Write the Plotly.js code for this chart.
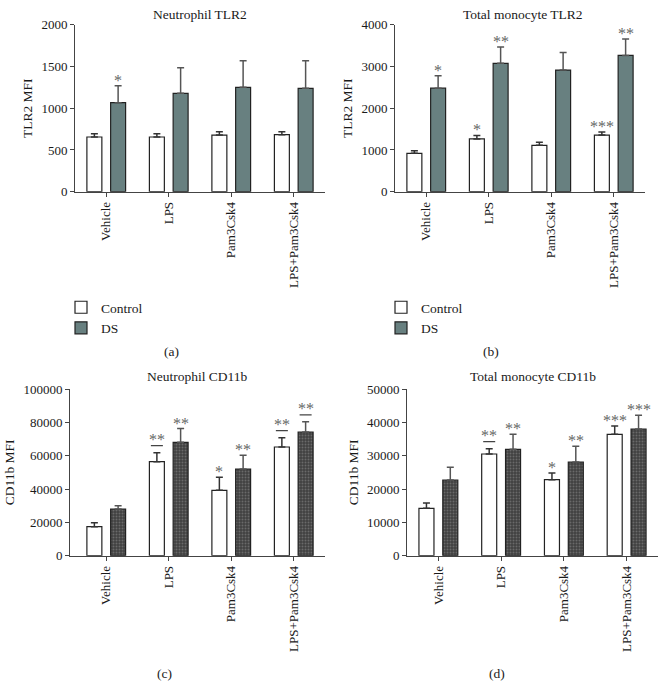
<!DOCTYPE html>
<html>
<head>
<meta charset="utf-8">
<script src="https://cdn.plot.ly/plotly-3.0.1.min.js"></script>
<style>html,body{margin:0;padding:0;background:#fff;}#chart{width:666px;height:700px;}</style>
</head>
<body>
<div id="chart"></div>
<script>
// ---- data ----
const categories = ["Vehicle", "LPS", "Pam3Csk4", "LPS+Pam3Csk4"];
const seriesNames = ["Control", "DS"];

const titleA = "Neutrophil TLR2";
const titleB = "Total monocyte TLR2";
const titleC = "Neutrophil CD11b";
const titleD = "Total monocyte CD11b";
const yTitleTop = "TLR2 MFI";
const yTitleBottom = "CD11b MFI";
const panelLabels = ["(a)", "(b)", "(c)", "(d)"];

// (a) Neutrophil TLR2
const aControl = [655, 655, 678, 683];
const aControlErr = [40, 40, 40, 36];
const aDS = [1066, 1178, 1250, 1238];
const aDSErr = [203, 307, 319, 331];
const aControlStars = ["", "", "", ""];
const aDSStars = ["*", "", "", ""];

// (b) Total monocyte TLR2
const bControl = [918, 1265, 1110, 1357];
const bControlErr = [64, 84, 72, 72];
const bDS = [2480, 3074, 2914, 3265];
const bDSErr = [298, 391, 423, 392];
const bControlStars = ["", "*", "", "***"];
const bDSStars = ["*", "**", "", "**"];

// (c) Neutrophil CD11b
const cControl = [17400, 56400, 39200, 65200];
const cControlErr = [2400, 5400, 7800, 5600];
const cDS = [28000, 68000, 52000, 74200];
const cDSErr = [2000, 8300, 8200, 6100];
const cControlStars = ["", "**", "*", "**"];
const cDSStars = ["", "**", "**", "**"];
const cControlUnderline = [false, true, false, true];
const cDSUnderline = [false, false, false, true];

// (d) Total monocyte CD11b
const dControl = [14200, 30500, 22800, 36400];
const dControlErr = [1600, 1600, 2000, 2500];
const dDS = [22700, 31900, 28100, 38000];
const dDSErr = [3800, 4500, 4700, 4100];
const dControlStars = ["", "**", "*", "***"];
const dDSStars = ["", "**", "**", "***"];
const dControlUnderline = [false, true, false, false];
const dDSUnderline = [false, false, false, false];

// ---- styles ----
const FONT = "Liberation Serif, Times New Roman, serif";
const TXT = "#1a1a1a";
const STAR = "#666";
const DS_TOP = "#688080";
const OFF = 0.19; // half distance between bar centers (category units)

const traces = [];
const annotations = [];
const shapes = [];

function panel(idx, ctrl, ctrlErr, ds, dsErr, ctrlStars, dsStars, ctrlUl, dsUl, patterned, legendId) {
  const xa = idx === 1 ? "x" : "x" + idx;
  const ya = idx === 1 ? "y" : "y" + idx;
  const zeros = ctrl.map(() => 0);
  traces.push({
    type: "bar", name: seriesNames[0], x: categories, y: ctrl,
    xaxis: xa, yaxis: ya,
    marker: {color: "#ffffff", line: {color: "#222", width: 1.2}},
    error_y: {type: "data", symmetric: false, array: ctrlErr, arrayminus: zeros,
              color: "#333", thickness: 1.5, width: 3.5},
    showlegend: !!legendId, legend: legendId || "legend", hoverinfo: "y"
  });
  const dsMarker = patterned
    ? {color: "#444444", line: {color: "#222", width: 1.2},
       pattern: {shape: ".", fillmode: "replace", bgcolor: "#404040", fgcolor: "#6a6a6a", size: 3, solidity: 0.35}}
    : {color: DS_TOP, line: {color: "#222", width: 1.2}};
  traces.push({
    type: "bar", name: seriesNames[1], x: categories, y: ds,
    xaxis: xa, yaxis: ya,
    marker: dsMarker,
    error_y: {type: "data", symmetric: false, array: dsErr, arrayminus: zeros,
              color: "#555", thickness: 1.5, width: 3.5},
    showlegend: !!legendId, legend: legendId || "legend", hoverinfo: "y"
  });
  const groups = [[ctrl, ctrlErr, ctrlStars, ctrlUl, -OFF], [ds, dsErr, dsStars, dsUl, OFF]];
  groups.forEach(([vals, errs, stars, ul, off]) => {
    vals.forEach((v, i) => {
      const top = v + errs[i];
      const hasUl = ul && ul[i];
      if (stars[i]) {
        annotations.push({
          xref: xa, yref: ya, x: i + off, y: top, text: stars[i],
          showarrow: false, xanchor: "center", yanchor: "bottom",
          yshift: hasUl ? 3 : -5,
          font: {family: FONT, size: 16, color: STAR}
        });
      }
      if (hasUl) {
        shapes.push({
          type: "line", xref: xa, yref: ya,
          xsizemode: "pixel", ysizemode: "pixel",
          xanchor: i + off, yanchor: top,
          x0: -6, x1: 6, y0: 7, y1: 7,
          line: {color: "#444", width: 1.2}
        });
      }
    });
  });
}

panel(1, aControl, aControlErr, aDS, aDSErr, aControlStars, aDSStars, null, null, false, "legend");
panel(2, bControl, bControlErr, bDS, bDSErr, bControlStars, bDSStars, null, null, false, "legend2");
panel(3, cControl, cControlErr, cDS, cDSErr, cControlStars, cDSStars, cControlUnderline, cDSUnderline, true, null);
panel(4, dControl, dControlErr, dDS, dDSErr, dControlStars, dDSStars, dControlUnderline, dDSUnderline, true, null);

const W = 666, H = 700;
function px(x) { return x / W; }
function py(y) { return 1 - y / H; }

function xaxis(x0, x1, r0) {
  return {
    domain: [px(x0), px(x1)], type: "category", range: [r0, 3.5],
    showline: true, linecolor: "#444", linewidth: 1,
    ticks: "outside", ticklen: 4, tickcolor: "#444", tickwidth: 1,
    tickangle: -90, showgrid: false, zeroline: false, fixedrange: true,
    tickfont: {family: FONT, size: 13, color: TXT}
  };
}
function yaxis(y0, y1, max, dtick, title, standoff, anchor) {
  return {
    domain: [py(y1), py(y0)], range: [0, max], dtick: dtick, tickformat: "d",
    showline: true, linecolor: "#444", linewidth: 1,
    ticks: "outside", ticklen: 4, tickcolor: "#444", tickwidth: 1,
    showgrid: false, zeroline: false, fixedrange: true, anchor: anchor,
    tickfont: {family: FONT, size: 13, color: TXT},
    title: {text: title, font: {family: FONT, size: 13.5, color: TXT}, standoff: standoff}
  };
}

const topY0 = 24.7, topY1 = 191.7, botY0 = 389, botY1 = 555.7;
const titleFont = {family: FONT, size: 13.5, color: TXT};

const layout = {
  width: W, height: H,
  margin: {l: 0, r: 0, t: 0, b: 0},
  paper_bgcolor: "#fff", plot_bgcolor: "#fff",
  font: {family: FONT, size: 13, color: TXT},
  barmode: "group", bargap: 0.24, bargroupgap: 0.37,
  xaxis: Object.assign(xaxis(75, 325, -0.5), {anchor: "y"}),
  yaxis: yaxis(topY0, topY1, 2000, 500, yTitleTop, 5, "x"),
  xaxis2: Object.assign(xaxis(395, 645, -0.5), {anchor: "y2"}),
  yaxis2: yaxis(topY0, topY1, 4000, 1000, yTitleTop, 5, "x2"),
  xaxis3: Object.assign(xaxis(70, 325, -0.58), {anchor: "y3"}),
  yaxis3: yaxis(botY0, botY1, 100000, 20000, yTitleBottom, 5, "x3"),
  xaxis4: Object.assign(xaxis(407, 658, -0.5), {anchor: "y4"}),
  yaxis4: yaxis(botY0, botY1, 50000, 10000, yTitleBottom, 5, "x4"),
  legend: {x: px(61), y: py(292), xanchor: "left", yanchor: "top",
           font: {family: FONT, size: 13.5, color: TXT}, bgcolor: "rgba(0,0,0,0)",
           tracegroupgap: 0, itemwidth: 30},
  legend2: {x: px(381), y: py(292), xanchor: "left", yanchor: "top",
            font: {family: FONT, size: 13.5, color: TXT}, bgcolor: "rgba(0,0,0,0)",
            tracegroupgap: 0, itemwidth: 30},
  annotations: annotations.concat([
    {xref: "paper", yref: "paper", x: px(200), y: py(14), text: titleA, showarrow: false,
     xanchor: "center", yanchor: "middle", font: titleFont},
    {xref: "paper", yref: "paper", x: px(523), y: py(14), text: titleB, showarrow: false,
     xanchor: "center", yanchor: "middle", font: titleFont},
    {xref: "paper", yref: "paper", x: px(197), y: py(376), text: titleC, showarrow: false,
     xanchor: "center", yanchor: "middle", font: titleFont},
    {xref: "paper", yref: "paper", x: px(533), y: py(376), text: titleD, showarrow: false,
     xanchor: "center", yanchor: "middle", font: titleFont},
    {xref: "paper", yref: "paper", x: px(171), y: py(351), text: panelLabels[0], showarrow: false,
     xanchor: "center", yanchor: "middle", font: titleFont},
    {xref: "paper", yref: "paper", x: px(491), y: py(351), text: panelLabels[1], showarrow: false,
     xanchor: "center", yanchor: "middle", font: titleFont},
    {xref: "paper", yref: "paper", x: px(164), y: py(673), text: panelLabels[2], showarrow: false,
     xanchor: "center", yanchor: "middle", font: titleFont},
    {xref: "paper", yref: "paper", x: px(497), y: py(673), text: panelLabels[3], showarrow: false,
     xanchor: "center", yanchor: "middle", font: titleFont}
  ]),
  shapes: shapes
};

Plotly.newPlot("chart", traces, layout, {displayModeBar: false, staticPlot: true});
</script>
</body>
</html>
